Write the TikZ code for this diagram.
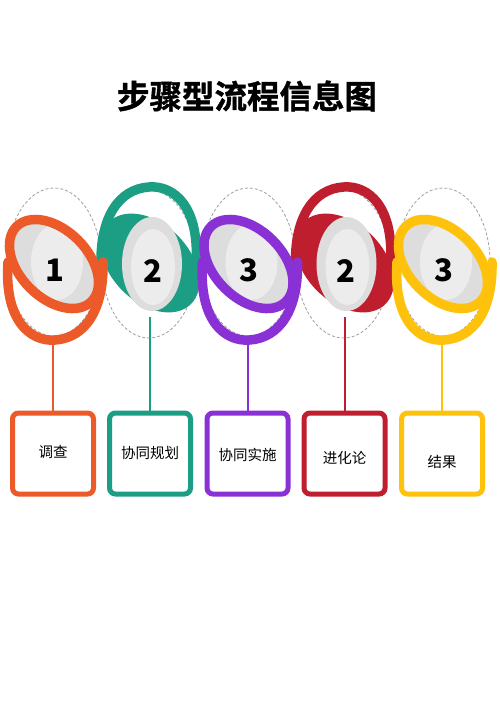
\documentclass[tikz,border=0pt]{standalone}
\usepackage{fontspec}
\newfontfamily\cjk{Noto Sans CJK SC}
\newfontfamily\cjkheavy{Noto Sans CJK SC Bold}[FakeBold=1.2]
\definecolor{cO}{HTML}{EB5A28}
\definecolor{cG}{HTML}{1C9E84}
\definecolor{cP}{HTML}{8A31D5}
\definecolor{cR}{HTML}{BF1E2E}
\definecolor{cY}{HTML}{FEC20C}
\definecolor{g1}{HTML}{DDDDDD}
\definecolor{g2}{HTML}{ECECEC}
\definecolor{dsh}{HTML}{A0A0A0}
\tikzset{
  dashring/.style={draw=dsh, line width=0.8, dash pattern=on 3pt off 2pt},
  conn/.style={line width=2},
  stepbox/.style={draw=#1, line width=5, rounded corners=6, minimum width=81, minimum height=81, fill=white, inner sep=0},
  steptext/.style={font=\cjk\fontsize{14.5}{14.5}\selectfont, inner sep=0},
  numtext/.style={font=\cjk\bfseries\fontsize{31}{31}\selectfont, inner sep=0},
}
\newcommand\oddunit[2]{%
  \begin{scope}[shift={(#1+1,264)}]
    \draw[#2, line width=9.5, line cap=round] (-46,-2) .. controls (-50,56) and (-24,78) .. (1,76) .. controls (31,74) and (50,46) .. (49,-2);
    \fill[g1, rotate=-45] (0,0) ellipse [x radius=53, y radius=34];
    \begin{scope}
      \clip[rotate=-45] (0,0) ellipse [x radius=53, y radius=34];
      \fill[g2] (3,-2) ellipse [x radius=26, y radius=38];
    \end{scope}
    \draw[#2, line width=9.5, rotate=-45] (0,0) ellipse [x radius=53, y radius=34];
  \end{scope}}
\newcommand\evenunit[2]{%
  \begin{scope}[shift={(#1,263)}, rotate=180]
    \fill[#2, rotate=-45] (0,0) ellipse [x radius=58, y radius=39];
    \draw[#2, line width=9.5, line cap=round] (-46,-2) .. controls (-50,56) and (-24,78) .. (1,76) .. controls (31,74) and (50,46) .. (49,-2);
  \end{scope}
  \fill[g1] (#1+2,264) ellipse [x radius=30, y radius=47];
  \fill[g2] (#1+3,267) ellipse [x radius=22, y radius=38];}
\begin{document}
\begin{tikzpicture}[x=1pt, y=-1pt]
  \fill[white] (0,0) rectangle (500,707);
  \useasboundingbox (0,0) rectangle (500,707);

  % title
  \node[font=\cjkheavy\fontsize{32.5}{32.5}\selectfont, inner sep=0] (title) at (247,96) {步骤型流程信息图};

  % dashed guide ellipses
  \draw[dashring] (54,262) ellipse [x radius=47, y radius=74];
  \draw[dashring] (149,264) ellipse [x radius=47, y radius=74];
  \draw[dashring] (248.5,262) ellipse [x radius=47, y radius=74];
  \draw[dashring] (343.5,264) ellipse [x radius=47, y radius=74];
  \draw[dashring] (443,262) ellipse [x radius=47, y radius=74];

  % boxes
  \node[stepbox=cO] (b1) at (53,453.5) {};
  \node[stepbox=cG] (b2) at (150,453.5) {};
  \node[stepbox=cP] (b3) at (247.5,453.5) {};
  \node[stepbox=cR] (b4) at (344.5,453.5) {};
  \node[stepbox=cY] (b5) at (442,453.5) {};

  % connector tops
  \coordinate (t1) at (53,342);
  \coordinate (t2) at (150,317);
  \coordinate (t3) at (247.5,342);
  \coordinate (t4) at (344.5,317);
  \coordinate (t5) at (442,342);
  \draw[conn, cO] (t1) -- (b1.north);
  \draw[conn, cG] (t2) -- (b2.north);
  \draw[conn, cP] (t3) -- (b3.north);
  \draw[conn, cR] (t4) -- (b4.north);
  \draw[conn, cY] (t5) -- (b5.north);

  % units
  \evenunit{150}{cG}
  \evenunit{344.5}{cR}
  \oddunit{53}{cO}
  \oddunit{247.5}{cP}
  \oddunit{442}{cY}

  % numbers
  \node[numtext] (n1) at (55,270) {1};
  \node[numtext] (n2) at (153,271) {2};
  \node[numtext] (n3) at (249,270) {3};
  \node[numtext] (n4) at (346,271) {2};
  \node[numtext] (n5) at (444,270) {3};

  % box texts
  \node[steptext] (s1) at (53,452) {调查};
  \node[steptext] (s2) at (150,453) {协同规划};
  \node[steptext] (s3) at (247.5,455) {协同实施};
  \node[steptext] (s4) at (344.5,458) {进化论};
  \node[steptext] (s5) at (442,462) {结果};
\end{tikzpicture}
\end{document}
